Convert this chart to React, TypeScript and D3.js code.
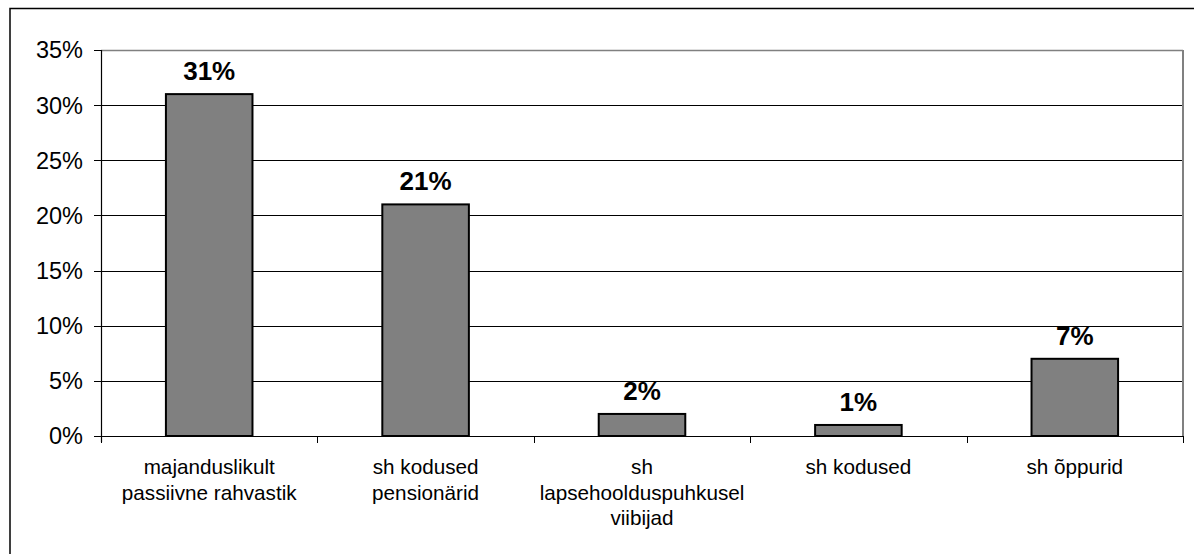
import React from "react";
import * as d3 from "d3";

const categories: string[][] = [
  ["majanduslikult", "passiivne rahvastik"],
  ["sh kodused", "pensionärid"],
  ["sh", "lapsehoolduspuhkusel", "viibijad"],
  ["sh kodused"],
  ["sh õppurid"],
];
const values: number[] = [31, 21, 2, 1, 7];
const yTicks: number[] = [0, 5, 10, 15, 20, 25, 30, 35];

const W = 1194;
const H = 554;
const left = 101;
const right = 1183;
const top = 50;
const bottom = 436;
const font = "Arial, 'Liberation Sans', sans-serif";

export default function App() {
  const x = d3
    .scaleBand<number>()
    .domain(values.map((_, i) => i))
    .range([left, right])
    .paddingInner(0.6)
    .paddingOuter(0.3);
  const y = d3.scaleLinear().domain([0, 35]).range([bottom, top]);
  const step = x.step();
  const boundaries = d3.range(categories.length + 1).map((i) => left + i * step);

  return (
    <svg
      width={W}
      height={H}
      style={{ position: "absolute", left: 0, top: 0, display: "block", background: "#fff" }}
    >
      <rect x={0} y={0} width={W} height={H} fill="#fff" />
      {/* outer frame */}
      <rect x={10} y={8.5} width={1300} height={700} fill="none" stroke="#000" strokeWidth={1.5} />

      {/* gridlines */}
      {yTicks.map((t) => (
        <line
          key={"g" + t}
          x1={left}
          x2={right}
          y1={Math.round(y(t)) + 0.5}
          y2={Math.round(y(t)) + 0.5}
          stroke={t === 35 ? "#808080" : "#000"}
          strokeWidth={t === 35 ? 1.5 : 1}
        />
      ))}
      {/* right border of plot */}
      <line x1={right} x2={right} y1={top} y2={bottom} stroke="#808080" strokeWidth={2} />

      {/* bars */}
      {values.map((v, i) => (
        <rect
          key={"b" + i}
          x={x(i)!}
          y={y(v)}
          width={x.bandwidth()}
          height={bottom - y(v)}
          fill="#808080"
          stroke="#000"
          strokeWidth={2}
        />
      ))}

      {/* y axis */}
      <line x1={left + 0.5} x2={left + 0.5} y1={top} y2={bottom + 6} stroke="#000" strokeWidth={1.2} />
      {yTicks.map((t) => (
        <g key={"yt" + t}>
          <line
            x1={left - 7}
            x2={left}
            y1={Math.round(y(t)) + 0.5}
            y2={Math.round(y(t)) + 0.5}
            stroke="#000"
            strokeWidth={1}
          />
          <text
            x={83}
            y={y(t)}
            dy="0.36em"
            textAnchor="end"
            fontFamily={font}
            fontSize={23.5}
            fill="#000"
          >
            {t}%
          </text>
        </g>
      ))}

      {/* x axis */}
      <line x1={left} x2={right} y1={bottom + 0.5} y2={bottom + 0.5} stroke="#000" strokeWidth={1.2} />
      {boundaries.map((b, i) => (
        <line
          key={"xt" + i}
          x1={Math.round(b) + 0.5}
          x2={Math.round(b) + 0.5}
          y1={bottom}
          y2={bottom + 7}
          stroke="#000"
          strokeWidth={1}
        />
      ))}

      {/* category labels */}
      {categories.map((lines, i) => (
        <text
          key={"c" + i}
          x={x(i)! + x.bandwidth() / 2}
          textAnchor="middle"
          fontFamily={font}
          fontSize={20.7}
          fill="#000"
        >
          {lines.map((ln, j) => (
            <tspan key={j} x={x(i)! + x.bandwidth() / 2} y={474 + j * 25.5}>
              {ln}
            </tspan>
          ))}
        </text>
      ))}

      {/* value labels */}
      {values.map((v, i) => (
        <text
          key={"v" + i}
          x={x(i)! + x.bandwidth() / 2}
          y={y(v) - 14}
          textAnchor="middle"
          fontFamily={font}
          fontSize={26}
          fontWeight="bold"
          fill="#000"
        >
          {v}%
        </text>
      ))}
    </svg>
  );
}
